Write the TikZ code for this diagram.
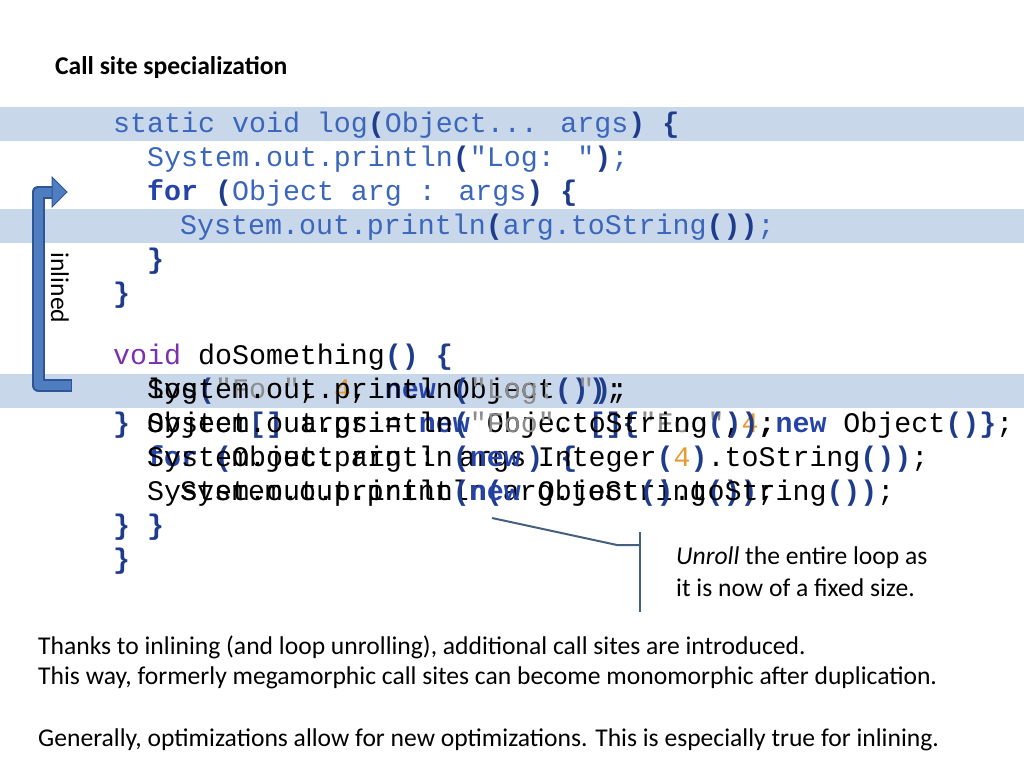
\documentclass[tikz,border=0pt]{standalone}
\usepackage{fontspec}
\setmainfont{Carlito}
\newfontfamily\codefont{Liberation Mono}
\definecolor{band}{HTML}{C9D7EA}
\definecolor{codeblue}{HTML}{3A66BC}
\definecolor{brk}{HTML}{1F3C8C}
\definecolor{kwp}{HTML}{7A30B0}
\definecolor{kwn}{HTML}{2644A8}
\definecolor{strg}{HTML}{8C8C8C}
\definecolor{numo}{HTML}{E69A30}
\definecolor{arrowfill}{HTML}{4F7EC0}
\definecolor{arrowline}{HTML}{2F5597}
\definecolor{callout}{HTML}{44607E}
\newcommand{\B}[1]{\textbf{\textcolor{brk}{#1}}}
\newcommand{\N}{\textbf{\textcolor{kwn}{new}}}
\newcommand{\V}{\textcolor{kwp}{void}}
\newcommand{\St}[1]{\textcolor{strg}{#1}}
\newcommand{\Nm}[1]{\textcolor{numo}{#1}}
\begin{document}
\begin{tikzpicture}[x=1pt,y=-1pt,
  code/.style={anchor=west,inner sep=0pt,font=\codefont\fontsize{28.3}{30}\selectfont},
  topcode/.style={code,text=codeblue},
  txt/.style={anchor=west,inner sep=0pt,font=\fontsize{25.6}{30}\selectfont}]
\useasboundingbox (0,0) rectangle (1024,768);
\fill[band] (0,107) rectangle (1024,141);
\fill[band] (0,209) rectangle (1024,243);
\fill[band] (0,374) rectangle (1024,408);

\node[txt,font=\bfseries\fontsize{25.6}{30}\selectfont] (title) at (55,68) {Call site specialization};

% top method
\node[topcode] (t1) at (113,125) {static void log\B{(}Object... args\B{)} \B{\{}};
\node[topcode] (t2) at (147,159) {System.out.println\B{(}"Log: "\B{)};};
\node[topcode] (t3) at (147,193) {\textbf{\textcolor{kwn}{for}} \B{(}Object arg : args\B{)} \B{\{}};
\node[topcode] (t4) at (180,227) {System.out.println\B{(}arg.toString\B{())};};
\node[topcode] (t5) at (147,261) {\B{\}}};
\node[topcode] (t6) at (113,295) {\B{\}}};

% doSomething
\node[code] (d1) at (113,357) {\V{} doSomething\B{()} \B{\{}};
\node[code] (a2) at (147,391) {log\B{(}\St{"Foo"}, \Nm{4}, \N{} Object\B{()}\B{)};};
\node[code] (c2) at (147,391) {System.out.println\B{(}\St{"Log: "}\B{)};};
\node[code] (a3) at (113,425) {\B{\}}};
\node[code] (b3) at (147,425) {Object\B{[]} args = \N{} Object\B{[]\{}\St{"Foo"},\Nm{4},\N{} Object\B{()\}};};
\node[code] (c3) at (147,425) {System.out.println\B{(}\St{"Foo"}.toString\B{())};};
\node[code] (b4) at (147,459) {\textbf{\textcolor{kwn}{for}} \B{(}Object arg : args\B{)} \B{\{}};
\node[code] (c4) at (147,459) {System.out.println\B{(}\N{} Integer\B{(}\Nm{4}\B{)}.toString\B{())};};
\node[code] (b5) at (180,493) {System.out.println\B{(}arg.toString\B{())};};
\node[code] (c5) at (147,493) {System.out.println\B{(}\N{} Object\B{()}.toString\B{())};};
\node[code] (b6) at (113,527) {\B{\}}};
\node[code] (c6) at (147,527) {\B{\}}};
\node[code] (b7) at (113,561) {\B{\}}};

% inlined arrow
\draw[arrowline,line width=13pt,line join=round] (72,385) -- (38,385) -- (38,192) -- (52,192);
\draw[arrowfill,line width=9pt,line join=round] (71,385) -- (38,385) -- (38,192) -- (53,192);
\fill[arrowfill,draw=arrowline,line width=1pt] (52,177) -- (67,192) -- (52,207) -- cycle;
\node[anchor=center,rotate=-90,inner sep=0pt,font=\fontsize{25.6}{30}\selectfont] (inl) at (60,288) {inlined};

% callout
\coordinate (cs) at (492,518);
\coordinate (ck) at (617,545);
\coordinate (cj) at (640,545);
\draw[callout,line width=2pt] (cs) -- (ck) -- (cj);
\draw[callout,line width=2pt] (640,532) -- (640,612);
\node[txt] (u1) at (676,558) {\textit{Unroll} the entire loop as};
\node[txt] (u2) at (676,588) {it is now of a fixed size.};

\node[txt] (p1) at (38,647) {Thanks to inlining (and loop unrolling), additional call sites are introduced.};
\node[txt] (p2) at (38,678) {This way, formerly megamorphic call sites can become monomorphic after duplication.};
\node[txt] (p3) at (38,740) {Generally, optimizations allow for new optimizations. This is especially true for inlining.};
\end{tikzpicture}
\end{document}
